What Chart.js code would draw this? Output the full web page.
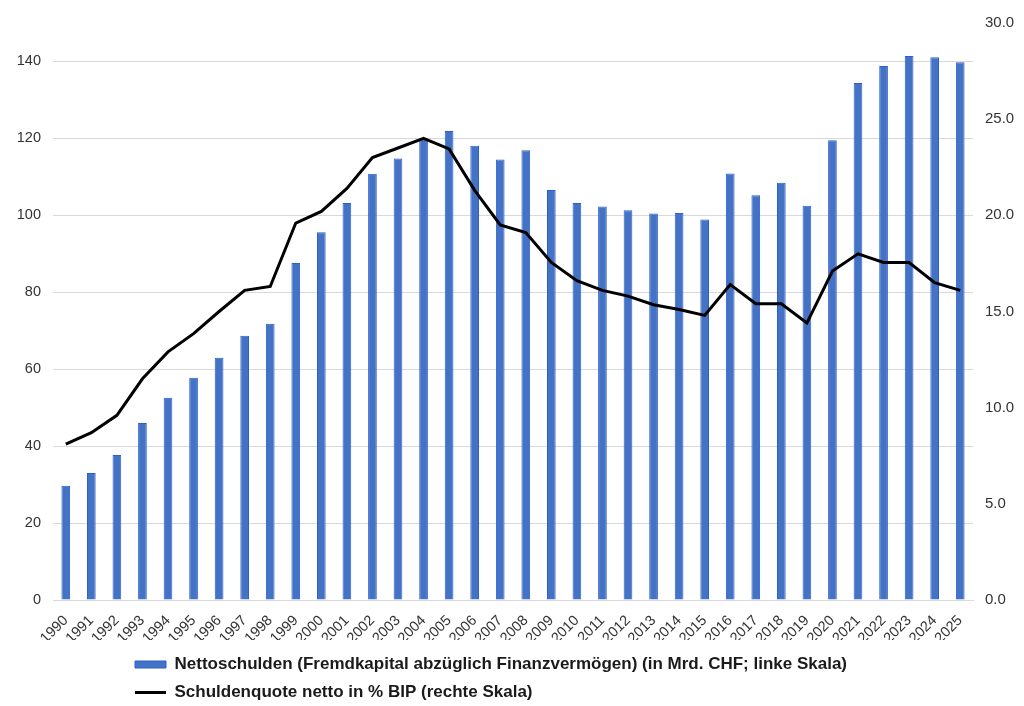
<!DOCTYPE html>
<html>
<head>
<meta charset="utf-8">
<script src="https://cdn.jsdelivr.net/npm/chart.js@4"></script>
<style>
  html, body { margin: 0; padding: 0; background: #fff; }
  #chart { display: block; }
</style>
</head>
<body>
<canvas id="chart" width="1024" height="706"></canvas>
<script>
const years = ["1990", "1991", "1992", "1993", "1994", "1995", "1996", "1997", "1998", "1999",
  "2000", "2001", "2002", "2003", "2004", "2005", "2006", "2007", "2008", "2009",
  "2010", "2011", "2012", "2013", "2014", "2015", "2016", "2017", "2018", "2019",
  "2020", "2021", "2022", "2023", "2024", "2025"];

// Nettoschulden in Mrd. CHF (linke Skala)
const nettoschulden = [29.7, 33.0, 37.7, 46.0, 52.6, 57.8, 63.0, 68.7, 71.8, 87.6,
  95.6, 103.2, 110.8, 114.8, 120.0, 121.9, 118.1, 114.5, 116.9, 106.6,
  103.2, 102.3, 101.3, 100.5, 100.6, 98.9, 110.9, 105.2, 108.5, 102.5,
  119.5, 134.4, 138.8, 141.4, 141.1, 139.8];

// Schuldenquote netto in % BIP (rechte Skala)
const schuldenquote = [8.1, 8.7, 9.6, 11.5, 12.9, 13.85, 15.0, 16.1, 16.3, 19.6,
  20.2, 21.4, 23.0, 23.5, 24.0, 23.45, 21.3, 19.5, 19.1, 17.55,
  16.6, 16.1, 15.8, 15.35, 15.1, 14.8, 16.4, 15.4, 15.4, 14.4,
  17.1, 18.0, 17.55, 17.55, 16.5, 16.1];

const leftTicks = [0, 20, 40, 60, 80, 100, 120, 140];
const rightTicks = [0, 5, 10, 15, 20, 25, 30];

const seriesLabels = [
  "Nettoschulden (Fremdkapital abzüglich Finanzvermögen) (in Mrd. CHF; linke Skala)",
  "Schuldenquote netto in % BIP (rechte Skala)"
];

const FONT = "'Liberation Sans', Arial, sans-serif";
const gridColor = "#d9d9d9";

// move the legend so both rows start at the same left edge, as in the original
const legendShift = {
  id: "legendShift",
  afterUpdate(chart) {
    const lg = chart.legend;
    if (!lg) return;
    lg.left = 124;
    lg.top += 5;
    lg.bottom += 5;
    lg.adjustHitBoxes();
  }
};

const ctx = document.getElementById("chart").getContext("2d");
const myChart = new Chart(ctx, {
  data: {
    labels: years,
    datasets: [
      {
        type: "bar",
        label: seriesLabels[0],
        data: nettoschulden,
        yAxisID: "y",
        backgroundColor: "#4472c4",
        borderColor: "#2b5fd0",
        borderWidth: 1,
        barPercentage: 0.34,
        categoryPercentage: 1.0,
        pointStyle: "rect",
        order: 1,
      },
      {
        type: "line",
        label: seriesLabels[1],
        data: schuldenquote,
        yAxisID: "y1",
        borderColor: "#000",
        backgroundColor: "#000",
        borderWidth: 3,
        pointRadius: 0,
        pointHoverRadius: 0,
        pointStyle: "line",
        pointBorderColor: "#000",
        pointBorderWidth: 3,
        tension: 0,
        order: 0,
      },
    ],
  },
  options: {
    responsive: false,
    animation: false,
    devicePixelRatio: 1,
    layout: { padding: { top: 23, left: 0, right: 0, bottom: 0 } },
    plugins: {
      tooltip: { enabled: false },
      legend: {
        position: "bottom",
        align: "start",
        labels: {
          usePointStyle: true,
          pointStyleWidth: 31,
          boxHeight: 7,
          padding: 11,
          color: "#1a1a1a",
          font: { family: FONT, size: 17, weight: "bold" },
          sort: (a, b) => a.datasetIndex - b.datasetIndex,
        },
      },
    },
    scales: {
      x: {
        grid: { display: false },
        border: { color: gridColor },
        ticks: {
          autoSkip: false,
          maxRotation: 45,
          minRotation: 45,
          padding: 4,
          color: "#333",
          font: { family: FONT, size: 14.5 },
        },
        afterFit(axis) { axis.height = 40; },
      },
      y: {
        position: "left",
        min: 0,
        max: 150,
        grid: { color: gridColor, drawTicks: false },
        border: { display: false },
        ticks: {
          padding: 12,
          color: "#333",
          font: { family: FONT, size: 14.5 },
        },
        afterBuildTicks(axis) {
          axis.ticks = leftTicks.map(v => ({ value: v }));
        },
        afterFit(axis) { axis.width = 53; },
      },
      y1: {
        position: "right",
        min: 0,
        max: 30,
        grid: { display: false, drawTicks: false },
        border: { display: false },
        ticks: {
          padding: 12,
          color: "#333",
          font: { family: FONT, size: 15 },
          callback: v => Number(v).toFixed(1),
        },
        afterBuildTicks(axis) {
          axis.ticks = rightTicks.map(v => ({ value: v }));
        },
        afterFit(axis) { axis.width = 51; },
      },
    },
  },
  plugins: [legendShift],
});
</script>
</body>
</html>
